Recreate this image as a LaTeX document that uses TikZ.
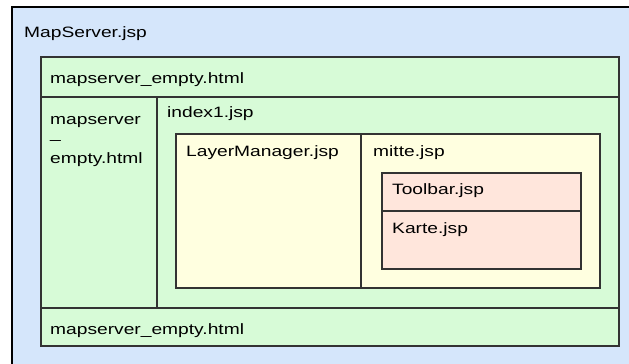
\documentclass[tikz,border=0pt]{standalone}
\usepackage{fontspec}
\setmainfont{Liberation Sans}[FakeStretch=1.28]
\definecolor{frameblue}{HTML}{D5E6FB}
\definecolor{framegreen}{HTML}{D7FBD7}
\definecolor{frameyellow}{HTML}{FFFFE0}
\definecolor{framepink}{HTML}{FFE6DC}
\definecolor{edge}{HTML}{333333}
\tikzset{
  framebox/.style={draw=edge, line width=1.3pt},
  label/.style={anchor=base west, inner sep=0pt, text=black,
    font=\fontsize{15}{18}\selectfont},
}
\begin{document}
\begin{tikzpicture}[x=1pt, y=-1pt]
  \useasboundingbox (0,0) rectangle (629,364);
  % outermost frame, only its top and left edges are visible
  \fill[frameblue] (12,7) rectangle (629,364);
  \draw[black, line width=2.2pt] (12,364) -- (12,7) -- (629,7);
  \node[label] (mapserver) at (24,37) {MapServer.jsp};

  % frameset of mapserver_empty.html / index1.jsp
  \filldraw[framebox, fill=framegreen] (41,57) rectangle (619,346);
  \draw[framebox] (41,97) -- (619,97);
  \draw[framebox] (41,308) -- (619,308);
  \draw[framebox] (157,97) -- (157,308);
  \node[label] (topempty) at (50,83) {mapserver\_empty.html};
  \node[label] (leftempty1) at (50,124) {mapserver};
  \node[label] (leftempty2) at (50,138) {\_};
  \node[label] (leftempty3) at (50,163) {empty.html};
  \node[label] (bottomempty) at (50,334) {mapserver\_empty.html};
  \node[label] (index) at (167,117) {index1.jsp};

  % index1.jsp content
  \filldraw[framebox, fill=frameyellow] (176,134) rectangle (600,288);
  \draw[framebox] (361,134) -- (361,288);
  \node[label] (layer) at (186,156) {LayerManager.jsp};
  \node[label] (mitte) at (373,156) {mitte.jsp};

  % mitte.jsp content
  \filldraw[framebox, fill=framepink] (382,173) rectangle (581,269);
  \draw[framebox] (382,211) -- (581,211);
  \node[label] (toolbar) at (392,194) {Toolbar.jsp};
  \node[label] (karte) at (392,233) {Karte.jsp};
\end{tikzpicture}
\end{document}
